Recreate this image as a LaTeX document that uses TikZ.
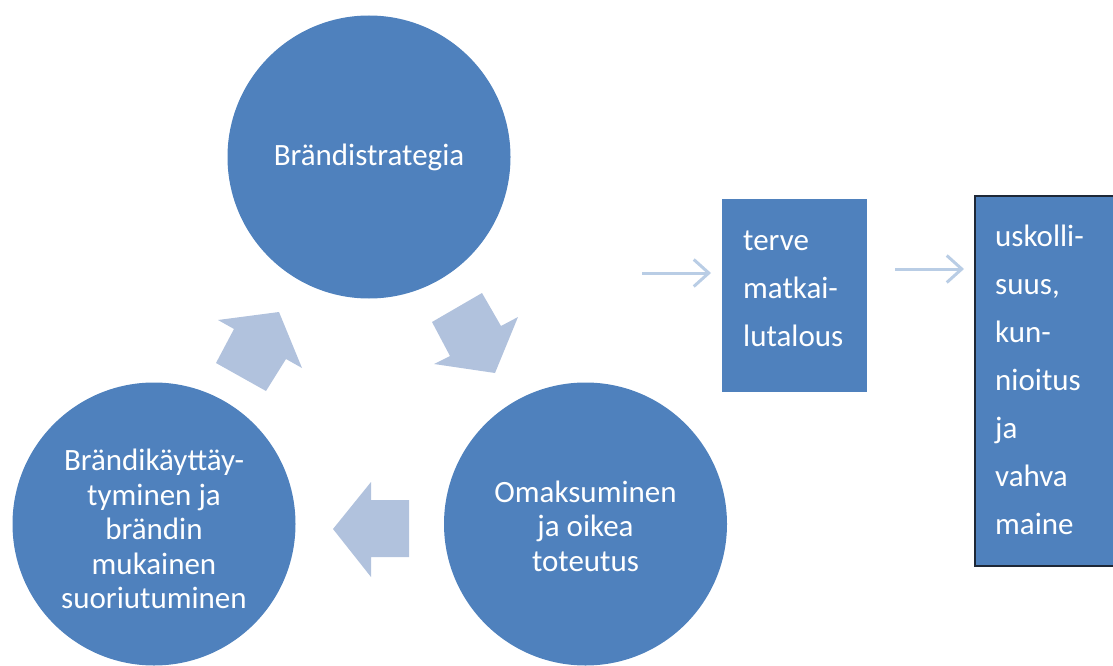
\documentclass[tikz,border=0pt]{standalone}
\usepackage{fontspec}
\setmainfont{Carlito}
\usetikzlibrary{arrows.meta}
\definecolor{circblue}{RGB}{79,129,189}
\definecolor{blockarrow}{RGB}{177,194,221}
\definecolor{thinarrow}{RGB}{185,205,229}
\definecolor{boxborder}{RGB}{30,40,55}
\tikzset{
  bigcircle/.style={circle, fill=circblue, minimum size=283pt, inner sep=0pt},
  circtext/.style={inner sep=0pt, text=white, align=center,
    font=\fontsize{31}{34.5}\selectfont},
  boxfill/.style={rectangle, fill=circblue, inner sep=0pt},
  boxtext/.style={anchor=north west, inner sep=0pt, text=white, align=left,
    font=\fontsize{31}{48}\selectfont},
  thin arrow/.style={draw=thinarrow, line width=3pt, -{Straight Barb[length=15pt,width=27pt,line width=3pt]}},
  block/.style={fill=blockarrow}
}
\begin{document}
\begin{tikzpicture}[x=1pt,y=-1pt]
\useasboundingbox (0,0) rectangle (1113,666);
% circles
\node[bigcircle] (strat) at (369,157) {};
\node[circtext] (stratT) at (369,157) {Brändistrategia};
\node[bigcircle] (kayt) at (154,524) {};
\node[circtext] (kaytT) at (154,529) {Brändikäyttäy-\\tyminen ja\\brändin\\mukainen\\suoriutuminen};
\node[bigcircle] (omak) at (585.5,524) {};
\node[circtext] (omakT) at (585.5,526) {Omaksuminen\\ja oikea\\toteutus};
% block arrows
\fill[block] (218,320) -- (279,312) -- (302,368) -- (286,359) -- (266,391) -- (216,363) -- (234,329) -- cycle;
\fill[block] (432,322) -- (482,293) -- (501,326) -- (518,317) -- (495,373) -- (434,364) -- (450,356) -- cycle;
\fill[block] (333,529) -- (371,482) -- (371,500) -- (409,500) -- (409,557) -- (371,557) -- (371,577) -- cycle;
% boxes
\node[boxfill, minimum width=145pt, minimum height=193pt] (talous) at (794.5,295.5) {};
\node[boxtext] (talousT) at (743,231) {terve\\matkai-\\lutalous};
\node[boxfill, draw=boxborder, line width=1.5pt, minimum width=141pt, minimum height=370pt] (maine) at (1045.5,381) {};
\node[boxtext] (maineT) at (995,225) {uskolli-\\suus,\\kun-\\nioitus\\ja\\vahva\\maine};
% thin arrows
\coordinate (a1s) at (642,273);
\coordinate (a1e) at (711,273);
\coordinate (a2s) at (895,269);
\coordinate (a2e) at (964,269);
\draw[thin arrow] (a1s) -- (a1e);
\draw[thin arrow] (a2s) -- (a2e);
\end{tikzpicture}
\end{document}
